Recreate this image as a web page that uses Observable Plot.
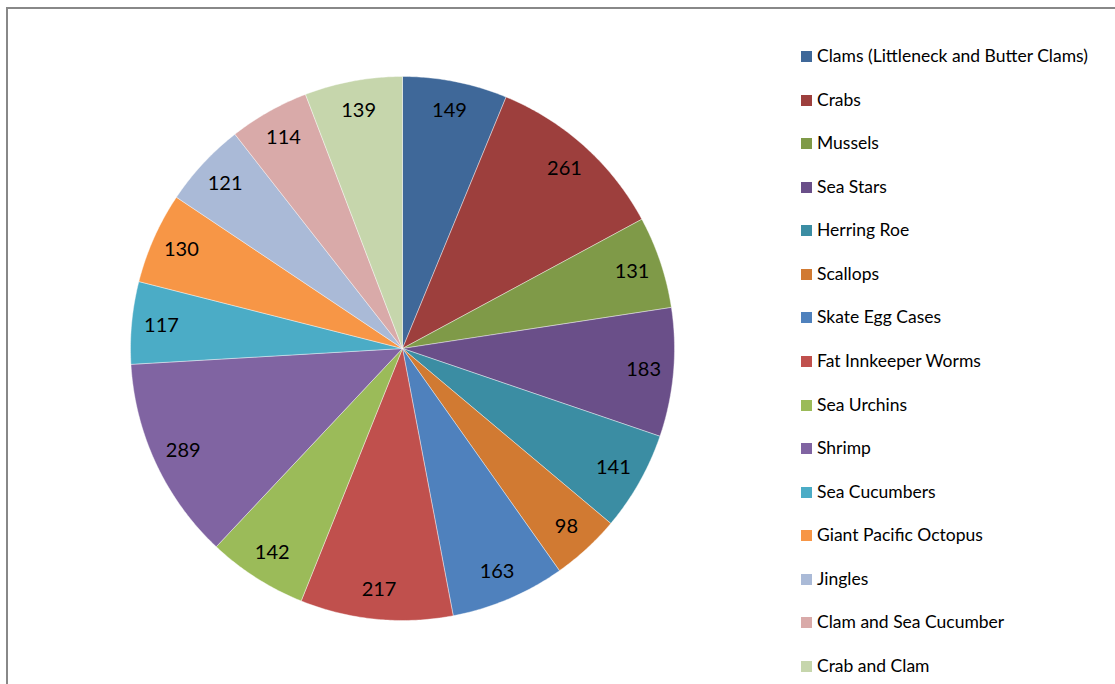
<!DOCTYPE html>
<html>
<head>
<meta charset="utf-8">
<script src="https://cdn.jsdelivr.net/npm/d3@7"></script>
<script src="https://cdn.jsdelivr.net/npm/@observablehq/plot@0.6"></script>
<style>
  html, body { margin: 0; padding: 0; background: #fff; }
  #wrap { position: relative; width: 1115px; height: 684px; overflow: hidden; font-family: Lato, "Open Sans", sans-serif; }
  #frame { position: absolute; left: 6px; top: 7px; width: 1300px; height: 900px; border-top: 2px solid #888; border-left: 2px solid #888; box-sizing: border-box; }
  #chart { position: absolute; left: 0; top: 0; }
  #legend { position: absolute; left: 801px; top: 44px; }
  .item { height: 43.57px; display: flex; align-items: flex-start; font-size: 17.5px; color: #000; line-height: 24px; white-space: nowrap; }
  .sw { width: 11px; height: 11px; margin-top: 7px; margin-right: 5px; flex: none; }
</style>
</head>
<body>
<div id="wrap">
  <div id="frame"></div>
  <div id="chart"></div>
  <div id="legend"></div>
</div>
<script>
const categories = [
  "Clams (Littleneck and Butter Clams)", "Crabs", "Mussels", "Sea Stars", "Herring Roe",
  "Scallops", "Skate Egg Cases", "Fat Innkeeper Worms", "Sea Urchins", "Shrimp",
  "Sea Cucumbers", "Giant Pacific Octopus", "Jingles", "Clam and Sea Cucumber", "Crab and Clam"
];
const values = [149, 261, 131, 183, 141, 98, 163, 217, 142, 289, 117, 130, 121, 114, 139];
const colors = [
  "#3F6899", "#9D3F3D", "#7F9A48", "#6A4F89", "#3B8DA3",
  "#D17A32", "#4F81BD", "#C0504D", "#9BBB59", "#8064A2",
  "#4BACC6", "#F79646", "#AABAD7", "#D9AAA9", "#C6D6AC"
];

const total = d3.sum(values);
const slices = [];
const labels = [];
let acc = 0;
values.forEach((v, i) => {
  const a0 = acc / total * 2 * Math.PI;
  acc += v;
  const a1 = acc / total * 2 * Math.PI;
  const n = Math.max(2, Math.ceil((a1 - a0) / (Math.PI / 360)));
  slices.push({k: i, x: 0, y: 0});
  for (let j = 0; j <= n; j++) {
    const a = a0 + (a1 - a0) * j / n;
    slices.push({k: i, x: Math.sin(a), y: Math.cos(a)});
  }
  slices.push({k: i, x: 0, y: 0});
  const am = (a0 + a1) / 2;
  labels.push({x: 0.89 * Math.sin(am), y: 0.89 * Math.cos(am), t: String(v)});
});

const cx = 402, cy = 348, R = 272;
const plot = Plot.plot({
  width: 1115,
  height: 684,
  margin: 0,
  x: {domain: [-1, 1], range: [cx - R, cx + R], axis: null},
  y: {domain: [-1, 1], range: [cy + R, cy - R], axis: null},
  style: {background: "transparent", fontFamily: "Lato, 'Open Sans', sans-serif"},
  marks: [
    Plot.line(slices, {x: "x", y: "y", z: "k", fill: d => colors[d.k], stroke: "#ffffff", strokeOpacity: 0.5, strokeWidth: 0.8, curve: "linear"}),
    Plot.text(labels, {x: "x", y: "y", text: "t", fontSize: 20, fill: "#000"})
  ]
});
document.getElementById("chart").appendChild(plot);

const legend = document.getElementById("legend");
categories.forEach((c, i) => {
  const row = document.createElement("div");
  row.className = "item";
  const sw = document.createElement("div");
  sw.className = "sw";
  sw.style.background = colors[i];
  const tx = document.createElement("span");
  tx.textContent = c;
  row.appendChild(sw);
  row.appendChild(tx);
  legend.appendChild(row);
});
</script>
</body>
</html>
